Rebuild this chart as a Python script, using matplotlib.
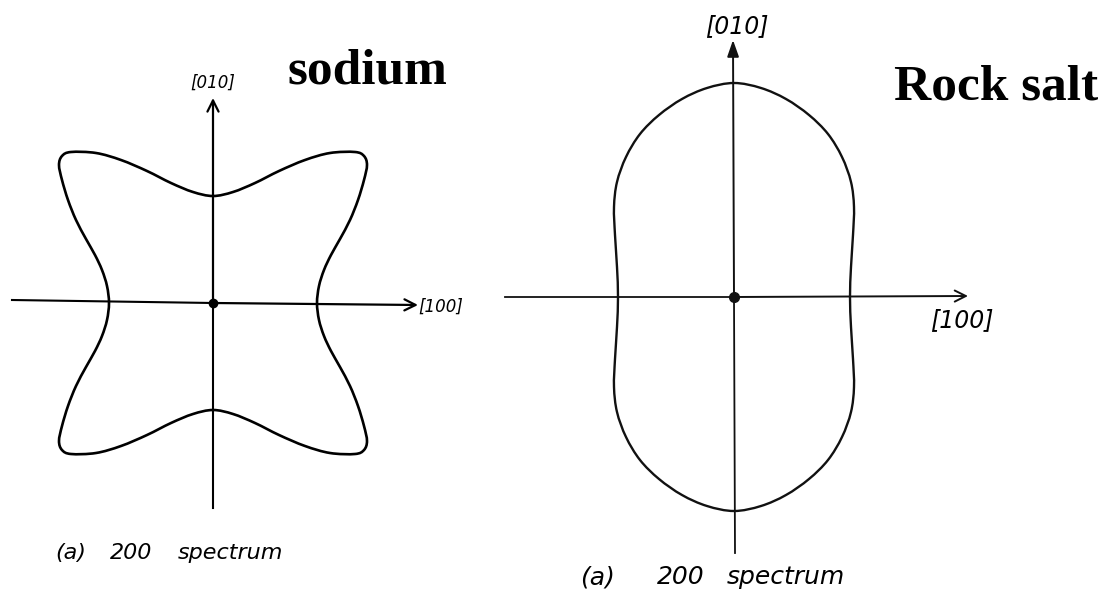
import matplotlib
matplotlib.use('Agg')
import matplotlib.pyplot as plt
import numpy as np
from matplotlib.path import Path
from matplotlib.patches import PathPatch

# ---- dados (pixels relativos à origem, y para cima) ----
# um quadrante de cada curva, de [100] até [010]
sodio_x = [104, 106, 111, 118, 127, 137, 145, 151, 154, 151, 142, 117, 92, 66, 42, 20, 0]
sodio_y = [0, 17, 33, 48, 64, 83, 103, 123, 138, 147, 151, 150, 143, 132, 120, 111, 107]

sal_x = [116, 117, 119, 120, 117, 108, 94, 75, 52, 27, 0]
sal_y = [0, 30, 62, 90, 115, 140, 163, 182, 198, 209, 214]

titulos = ['sodium', 'Rock salt']
legenda = ['(a)', '200', 'spectrum']
eixos = ['[100]', '[010]']


def fechar_curva(qx, qy):
    """Espelha um quadrante nos outros três"""
    qx, qy = np.array(qx, float), np.array(qy, float)
    xs = np.concatenate([qx, -qx[::-1][1:], -qx[1:], qx[::-1][1:-1]])
    ys = np.concatenate([qy, qy[::-1][1:], -qy[1:], -qy[::-1][1:-1]])
    return np.column_stack([xs, ys])


def caminho_suave(pts):
    """Curva fechada de Bezier passando pelos pontos (Catmull-Rom)"""
    n = len(pts)
    verts = [pts[0]]
    codes = [Path.MOVETO]
    for i in range(n):
        p0, p1, p2, p3 = pts[i - 1], pts[i], pts[(i + 1) % n], pts[(i + 2) % n]
        verts += [p1 + (p2 - p0) / 6, p2 - (p3 - p1) / 6, p2]
        codes += [Path.CURVE4] * 3
    return Path(verts, codes)


def desenhar_painel(ax, ox, oy, qx, qy, cor, lw):
    pts = fechar_curva(qx, qy)
    pts = np.column_stack([ox + pts[:, 0], oy - pts[:, 1]])
    ax.add_patch(PathPatch(caminho_suave(pts), fill=False, ec=cor, lw=lw, joinstyle='round'))


fig = plt.figure(figsize=(11.18, 5.94), dpi=100)
ax = fig.add_axes([0, 0, 1, 1])
ax.set_xlim(0, 1118)
ax.set_ylim(594, 0)
ax.axis('off')

seta = dict(arrowstyle='->,head_length=0.8,head_width=0.4', lw=1.6, color='black',
            shrinkA=0, shrinkB=0)
hand = dict(family='DejaVu Sans', style='italic', color='black')

# ---- painel da esquerda: sódio ----
ox, oy = 213, 303
ax.plot([12, ox], [300, oy], color='black', lw=1.5)
ax.annotate('', xy=(418, 305), xytext=(ox, oy), arrowprops=seta)
ax.plot([ox, ox], [oy, 508], color='black', lw=1.5)
ax.annotate('', xy=(ox, 98), xytext=(ox, oy), arrowprops=seta)
desenhar_painel(ax, ox, oy, sodio_x, sodio_y, 'black', 1.9)
ax.plot(ox, oy, 'o', color='black', ms=6)
ax.text(441, 307, eixos[0], ha='center', va='center', fontsize=12, **hand)
ax.text(213, 83, eixos[1], ha='center', va='center', fontsize=12, **hand)
ax.text(367, 72, titulos[0], ha='center', va='center', fontsize=37,
        family='Liberation Serif', weight='bold')
for txt, x in zip(legenda, [55, 110, 178]):
    ax.text(x, 553, txt, ha='left', va='center', fontsize=16, **hand)

# ---- painel da direita: sal-gema ----
ox, oy = 734, 297
cor = '#111111'
ax.plot([505, ox], [297, oy], color=cor, lw=1.3)
ax.annotate('', xy=(968, 296), xytext=(ox, oy), arrowprops=dict(seta, color=cor, lw=1.4))
ax.plot([ox, 735], [oy, 553], color=cor, lw=1.3)
ax.annotate('', xy=(733, 40), xytext=(ox, oy),
            arrowprops=dict(seta, color=cor, lw=1.4,
                            arrowstyle='-|>,head_length=1.0,head_width=0.35'))
desenhar_painel(ax, ox, oy, sal_x, sal_y, cor, 1.7)
ax.plot(ox, oy, 'o', color=cor, ms=7)
ax.text(962, 320, eixos[0], ha='center', va='center', fontsize=17, **hand)
ax.text(737, 26, eixos[1], ha='center', va='center', fontsize=17, **hand)
ax.text(996, 87, titulos[1], ha='center', va='center', fontsize=37,
        family='Liberation Serif', weight='bold')
for txt, x in zip(legenda, [580, 657, 727]):
    ax.text(x, 577, txt, ha='left', va='center', fontsize=18, **hand)

plt.savefig('out.png', dpi=100)
plt.close()
